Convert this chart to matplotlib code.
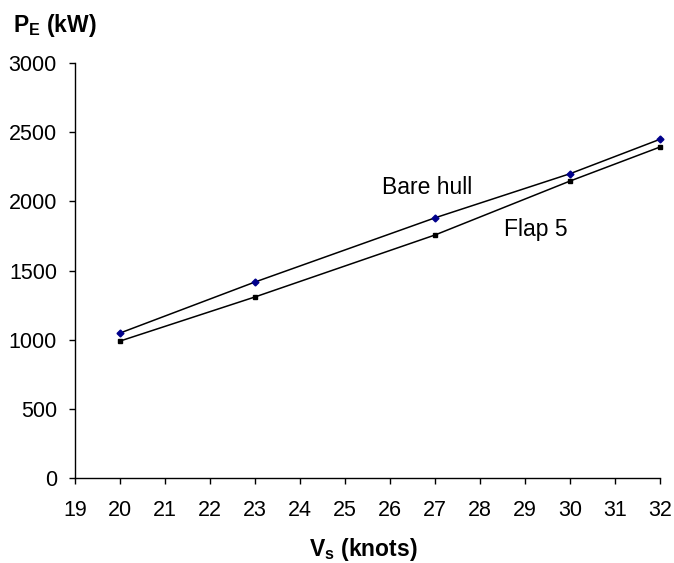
import matplotlib
matplotlib.use('Agg')
import matplotlib.pyplot as plt

# speed (knots) and effective power (kW)
speed = [20, 23, 27, 30, 32]
bare_hull = [1048, 1417, 1881, 2200, 2449]
flap_5 = [990, 1309, 1757, 2147, 2393]

x_ticks = list(range(19, 33))
y_ticks = [0, 500, 1000, 1500, 2000, 2500, 3000]

plt.rcParams['font.family'] = ['Liberation Sans', 'DejaVu Sans']

fig = plt.figure(figsize=(6.74, 5.63), dpi=100)
ax = fig.add_axes([0.1113, 0.151, 0.868, 0.737])

ax.plot(speed, bare_hull, color='black', lw=1.1, marker='D', ms=3.5,
        mfc='#00008B', mec='#00008B', clip_on=False)
ax.plot(speed, flap_5, color='black', lw=1.1, marker='s', ms=3,
        mfc='black', mec='black', clip_on=False)

ax.text(25.82, 2053, 'Bare hull', fontsize=16.5, ha='left', va='baseline')
ax.text(28.53, 1752, 'Flap 5', fontsize=16.5, ha='left', va='baseline')

ax.set_xlim(19, 32)
ax.set_ylim(0, 3000)
ax.set_xticks(x_ticks)
ax.set_yticks(y_ticks)
ax.tick_params(labelsize=15.5, length=4.5, width=1, direction='out')
ax.tick_params(axis='x', pad=11)
ax.tick_params(axis='y', pad=8.5)
for s in ['top', 'right']:
    ax.spines[s].set_visible(False)
for s in ['left', 'bottom']:
    ax.spines[s].set_linewidth(1)

fig.text(0.019, 0.943, r'P$_\mathregular{E}$ (kW)', fontsize=16.5, fontweight='bold',
         ha='left', va='baseline')
fig.text(0.539, 0.0124, r'V$_\mathregular{s}$ (knots)', fontsize=16.5, fontweight='bold',
         ha='center', va='baseline')

fig.savefig('out.png', dpi=100)
